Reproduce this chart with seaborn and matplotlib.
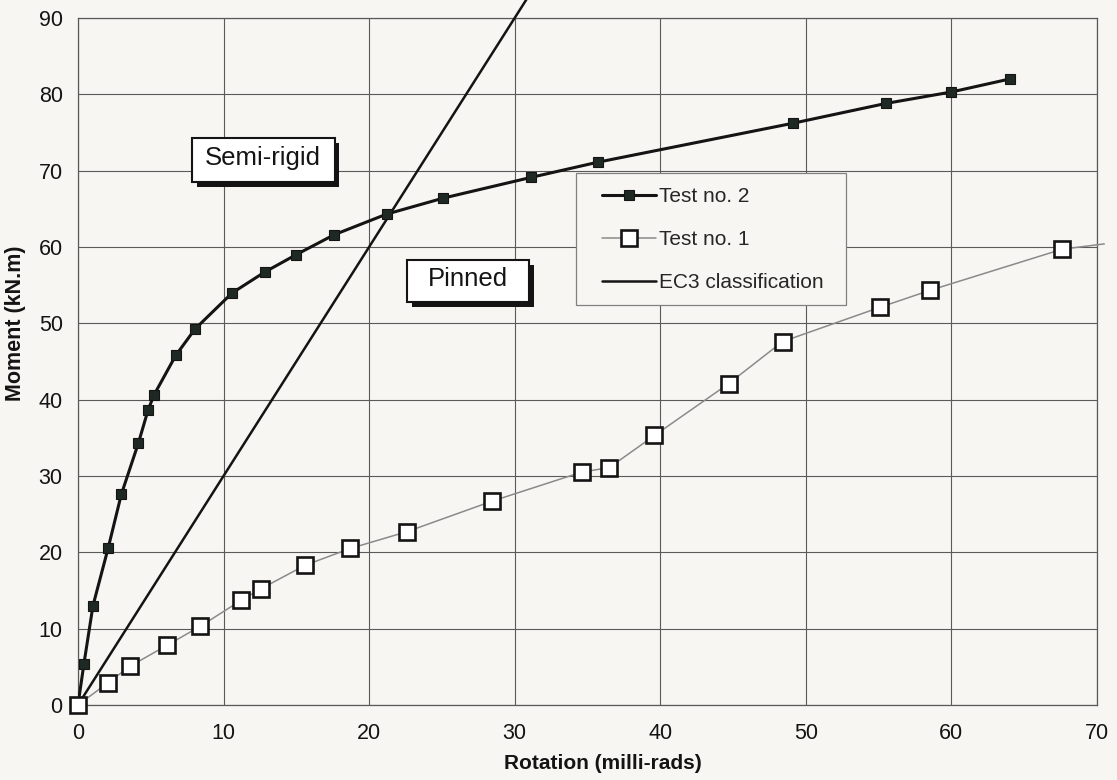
import matplotlib
matplotlib.use("Agg")
import matplotlib.pyplot as plt
import matplotlib.patheffects as pe
from matplotlib.patches import Rectangle
import pandas as pd
import seaborn as sns

# Moment-rotation test data (rotation in milli-rads, moment in kN.m)
rot_test2 = [0, 0.41, 1.03, 2.08, 2.98, 4.15, 4.81, 5.22, 6.72, 8.04, 10.58,
             12.82, 15.0, 17.6, 21.2, 25.1, 31.1, 35.7, 49.1, 55.5, 60.0, 64.0]
mom_test2 = [0, 5.4, 13.0, 20.6, 27.6, 34.3, 38.6, 40.6, 45.8, 49.25, 53.96,
             56.7, 59.0, 61.6, 64.3, 66.4, 69.1, 71.1, 76.2, 78.8, 80.3, 82.0]

# Test no. 1 readings; the last entry is where the trace leaves the plot
rot_test1 = [0, 2.06, 3.6, 6.1, 8.4, 11.2, 12.55, 15.6, 18.7, 22.6, 28.45,
             34.6, 36.5, 39.6, 44.7, 48.4, 55.1, 58.5, 67.6, 70.5]
mom_test1 = [0, 2.9, 5.1, 7.8, 10.3, 13.7, 15.2, 18.3, 20.5, 22.7, 26.7,
             30.5, 31.1, 35.3, 42.1, 47.6, 52.1, 54.3, 59.7, 60.4]

# EC3 boundary between semi-rigid and pinned joints
rot_ec3 = [0, 31]
mom_ec3 = [0, 93]

x_ticks = [0, 10, 20, 30, 40, 50, 60, 70]
y_ticks = [0, 10, 20, 30, 40, 50, 60, 70, 80, 90]

series_labels = ["Test no. 2", "Test no. 1", "EC3 classification"]

sns.set_theme(style="whitegrid")
plt.rcParams["font.family"] = ["Liberation Sans", "DejaVu Sans"]

bg = "#f8f6f2"
ink = "#141414"

fig = plt.figure(figsize=(11.17, 7.8), dpi=100, facecolor=bg)
ax = fig.add_axes([0.0698, 0.0962, 0.9123, 0.8808])
ax.set_facecolor(bg)
ax.set_axisbelow(True)

df2 = pd.DataFrame({"rotation": rot_test2, "moment": mom_test2})
df1 = pd.DataFrame({"rotation": rot_test1, "moment": mom_test1})
dfe = pd.DataFrame({"rotation": rot_ec3, "moment": mom_ec3})

sns.lineplot(data=df2, x="rotation", y="moment", sort=False, ax=ax,
             color=ink, lw=2.2, marker="s", markersize=7,
             markerfacecolor="#1e2924", markeredgecolor=ink,
             markeredgewidth=0.8, zorder=4)
sns.lineplot(data=df1, x="rotation", y="moment", sort=False, ax=ax,
             color="#8a8a8a", lw=1.1, marker="s", markersize=11,
             markerfacecolor="white", markeredgecolor=ink,
             markeredgewidth=1.9, markevery=list(range(len(rot_test1) - 1)),
             zorder=5)
sns.lineplot(data=dfe, x="rotation", y="moment", sort=False, ax=ax,
             color=ink, lw=1.8, zorder=3)
for line in ax.lines[1:3]:
    line.set_clip_on(False)

ax.set_xlim(x_ticks[0], x_ticks[-1])
ax.set_ylim(y_ticks[0], y_ticks[-1])
ax.set_xticks(x_ticks)
ax.set_yticks(y_ticks)
ax.grid(True, color="#5a5a5a", lw=0.8)
for spine in ax.spines.values():
    spine.set_color("#5a5a5a")
    spine.set_linewidth(0.9)
ax.tick_params(axis="both", direction="out", length=7, width=0.8,
               color="#444444", labelsize=15.5, labelcolor=ink, pad=4)
ax.tick_params(axis="x", pad=6)

ax.set_xlabel("Rotation (milli-rads)", fontsize=15, fontweight="bold",
              color=ink)
ax.xaxis.set_label_coords(0.515, -0.072)
ax.set_ylabel("Moment (kN.m)", fontsize=15.5, fontweight="bold", color=ink)
ax.yaxis.set_label_coords(-0.051, 0.555)

# Region labels in shadowed boxes
shadow = [pe.SimplePatchShadow(offset=(3.5, -3.5), shadow_rgbFace=ink,
                               alpha=1.0), pe.Normal()]
boxes = [(7.83, 68.5, 9.8, 5.8, "Semi-rigid"),
         (22.6, 52.8, 8.4, 5.5, "Pinned")]
for x0, y0, w, h, text in boxes:
    rect = Rectangle((x0, y0), w, h, facecolor="white", edgecolor=ink,
                     lw=1.5, zorder=6)
    rect.set_path_effects(shadow)
    ax.add_patch(rect)
    ax.text(x0 + w / 2, y0 + h / 2 + 0.3, text, ha="center", va="center",
            fontsize=18.5, color=ink, zorder=7)

# Legend panel
panel = Rectangle((576 / 1117, 1 - 305 / 780), 270 / 1117, 132 / 780,
                  transform=fig.transFigure, facecolor=bg,
                  edgecolor="#808080", lw=0.9, zorder=2)
fig.patches.append(panel)
handles = ax.lines[:3]
fig.legend(handles, series_labels, loc="upper left",
           bbox_to_anchor=(602 / 1117, 1 - 187 / 780),
           bbox_transform=fig.transFigure, frameon=False, fontsize=15,
           handlelength=2.6, handletextpad=0.15, labelspacing=1.16,
           borderpad=0, borderaxespad=0)

fig.savefig("out.png", dpi=100, facecolor=bg)
